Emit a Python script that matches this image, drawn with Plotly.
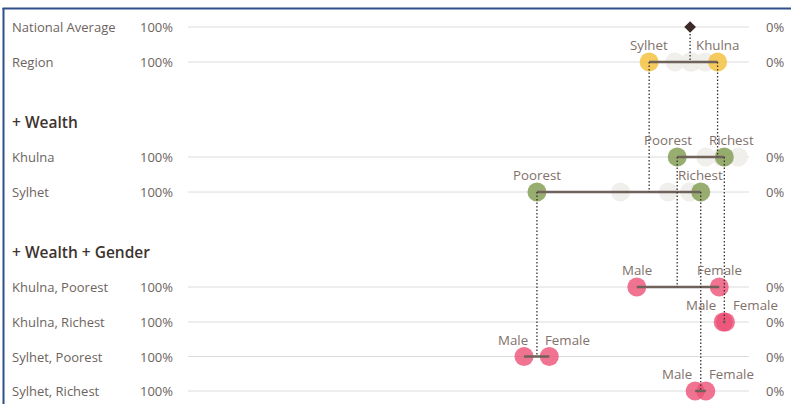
import plotly.graph_objects as go

# ---------------- data ----------------
row_names = ["National Average", "Region", "Khulna", "Sylhet",
             "Khulna, Poorest", "Khulna, Richest", "Sylhet, Poorest", "Sylhet, Richest"]
header_names = ["+ Wealth", "+ Wealth + Gender"]
axis_left_label = "100%"
axis_right_label = "0%"

national_avg = 10.5

region_labels = ["Sylhet", "Khulna"]
region_vals = [17.8, 5.6]
region_other = [13.2, 10.5, 10.1, 7.8]

wealth_labels = ["Poorest", "Richest"]
khulna_wealth = [12.8, 4.4]
khulna_wealth_other = [7.7, 4.9, 1.9]
sylhet_wealth = [37.8, 8.6]
sylhet_wealth_other = [22.9, 14.4, 10.6]

gender_labels = ["Male", "Female"]
khulna_poorest_gender = [20.0, 5.3]
khulna_richest_gender = [4.6, 4.2]
sylhet_poorest_gender = [40.1, 35.6]
sylhet_richest_gender = [9.6, 7.7]

# ---------------- layout / style ----------------
W, H = 791, 404
X0, X1 = 188, 749          # pixel extent of plot area
row_y = {"National Average": 27, "Region": 62, "+ Wealth": 122, "Khulna": 157, "Sylhet": 192,
         "+ Wealth + Gender": 252, "Khulna, Poorest": 287, "Khulna, Richest": 322,
         "Sylhet, Poorest": 356.5, "Sylhet, Richest": 391}

FONT = "Open Sans"
LABEL_C = "#6c6460"
DOT_LABEL_C = "#7f716a"
HEAD_C = "#3d342f"
GRID_C = "#dcdcdc"
SEG_C = "#6e625b"
DOTLINE_C = "#3a2f2b"
FAINT_C = "#eeede9"
YELLOW = "rgba(245,196,72,0.88)"
GREEN = "rgba(134,160,88,0.85)"
PINK = "rgba(236,80,118,0.80)"
MSIZE = 19
LBL_SIZE = 13
DOT_LBL_SIZE = 13.3

fig = go.Figure()

# grid lines for data rows
for name in row_names:
    y = row_y[name]
    fig.add_trace(go.Scatter(x=[100, 0], y=[y, y], mode="lines",
                             line=dict(color=GRID_C, width=1), hoverinfo="skip", showlegend=False))

# groups: (row, values, labels, others, color, label mode, parent value, parent row)
groups = [
    ("Region", region_vals, region_labels, region_other, YELLOW, "center", national_avg, "National Average"),
    ("Khulna", khulna_wealth, wealth_labels, khulna_wealth_other, GREEN, "split", region_vals[1], "Region"),
    ("Sylhet", sylhet_wealth, wealth_labels, sylhet_wealth_other, GREEN, "center", region_vals[0], "Region"),
    ("Khulna, Poorest", khulna_poorest_gender, gender_labels, [], PINK, "center", khulna_wealth[0], "Khulna"),
    ("Khulna, Richest", khulna_richest_gender, gender_labels, [], PINK, "split", khulna_wealth[1], "Khulna"),
    ("Sylhet, Poorest", sylhet_poorest_gender, gender_labels, [], PINK, "split", sylhet_wealth[0], "Sylhet"),
    ("Sylhet, Richest", sylhet_richest_gender, gender_labels, [], PINK, "split", sylhet_wealth[1], "Sylhet"),
]

annotations = []

# faint "other" markers
for row, vals, labs, others, col, mode, pv, prow in groups:
    if others:
        fig.add_trace(go.Scatter(x=others, y=[row_y[row]] * len(others), mode="markers",
                                 marker=dict(size=MSIZE, color=FAINT_C, opacity=0.9, line=dict(width=0)),
                                 hoverinfo="skip", showlegend=False))

# coloured markers + segments
for row, vals, labs, others, col, mode, pv, prow in groups:
    y = row_y[row]
    fig.add_trace(go.Scatter(x=vals, y=[y, y], mode="markers",
                             marker=dict(size=MSIZE, color=col, line=dict(width=0)),
                             hoverinfo="skip", showlegend=False))
    fig.add_trace(go.Scatter(x=vals, y=[y, y], mode="lines",
                             line=dict(color=SEG_C, width=2.5), hoverinfo="skip", showlegend=False))
    # labels
    if mode == "center":
        for v, t in zip(vals, labs):
            annotations.append(dict(x=v, y=y, xref="x", yref="y", text=t, showarrow=False,
                                    xanchor="center", yanchor="middle", yshift=17,
                                    font=dict(family=FONT, size=DOT_LBL_SIZE, color=DOT_LABEL_C)))
    else:
        mid = (vals[0] + vals[1]) / 2
        order = sorted(zip(vals, labs), key=lambda p: -p[0])
        annotations.append(dict(x=mid, y=y, xref="x", yref="y", text=order[0][1], showarrow=False,
                                xanchor="right", yanchor="middle", yshift=17, xshift=-6.5,
                                font=dict(family=FONT, size=DOT_LBL_SIZE, color=DOT_LABEL_C)))
        annotations.append(dict(x=mid, y=y, xref="x", yref="y", text=order[1][1], showarrow=False,
                                xanchor="left", yanchor="middle", yshift=17, xshift=6.5,
                                font=dict(family=FONT, size=DOT_LBL_SIZE, color=DOT_LABEL_C)))

# dotted drop lines from parent value
for row, vals, labs, others, col, mode, pv, prow in groups:
    fig.add_trace(go.Scatter(x=[pv, pv], y=[row_y[prow], row_y[row]], mode="lines",
                             line=dict(color=DOTLINE_C, width=1.3, dash="1.5px,2px"),
                             hoverinfo="skip", showlegend=False))

# national average diamond
fig.add_trace(go.Scatter(x=[national_avg], y=[row_y["National Average"]], mode="markers",
                         marker=dict(symbol="diamond", size=9, color="#3b2a25"),
                         hoverinfo="skip", showlegend=False))

# left / right labels
for name in row_names:
    y = row_y[name]
    annotations.append(dict(x=9.5 / W, y=y, xref="paper", yref="y", text=name, showarrow=False,
                            xanchor="left", yanchor="middle",
                            font=dict(family=FONT, size=LBL_SIZE, color=LABEL_C)))
    annotations.append(dict(x=174.5 / W, y=y, xref="paper", yref="y", text=axis_left_label,
                            showarrow=False, xanchor="right", yanchor="middle",
                            font=dict(family=FONT, size=LBL_SIZE, color=LABEL_C)))
    annotations.append(dict(x=764 / W, y=y, xref="paper", yref="y", text=axis_right_label,
                            showarrow=False, xanchor="left", yanchor="middle",
                            font=dict(family=FONT, size=LBL_SIZE, color=LABEL_C)))
for name in header_names:
    annotations.append(dict(x=9.5 / W, y=row_y[name], xref="paper", yref="y", text=name,
                            showarrow=False, xanchor="left", yanchor="middle",
                            font=dict(family=FONT, size=15.5, color=HEAD_C, weight=600)))

shapes = [
    dict(type="line", xref="paper", yref="paper", x0=3.5 / W, x1=3.5 / W, y0=0, y1=1 - 8 / H,
         line=dict(color="#2f4f8c", width=2)),
    dict(type="line", xref="paper", yref="paper", x0=2.5 / W, x1=1, y0=1 - 8.5 / H, y1=1 - 8.5 / H,
         line=dict(color="#2f4f8c", width=2)),
]

fig.update_layout(
    width=W, height=H, margin=dict(l=0, r=0, t=0, b=0),
    paper_bgcolor="white", plot_bgcolor="white",
    xaxis=dict(range=[100, 0], domain=[X0 / W, X1 / W], visible=False, fixedrange=True),
    yaxis=dict(range=[H, 0], visible=False, fixedrange=True),
    annotations=annotations, shapes=shapes, showlegend=False,
    font=dict(family=FONT),
)

fig.write_html("out.html", config={"displayModeBar": False},
               post_script="document.body.style.margin='0px';document.body.style.overflow='hidden';")
